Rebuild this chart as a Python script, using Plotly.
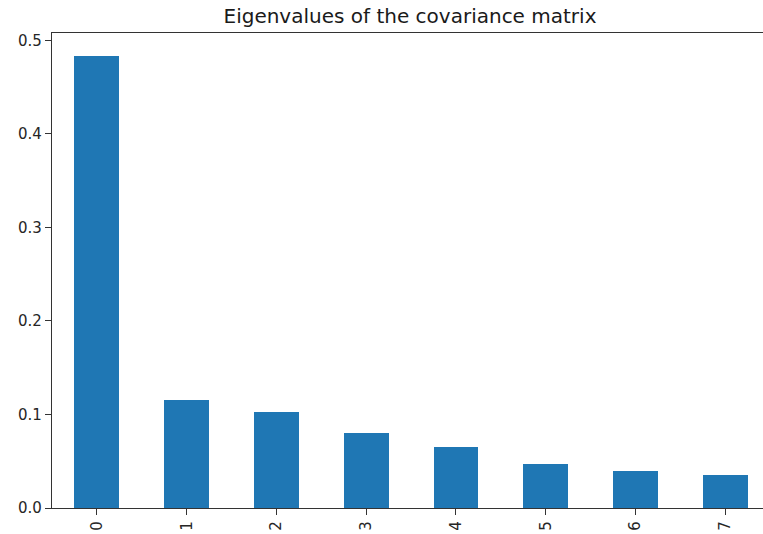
import plotly.graph_objects as go

# Eigenvalues of the covariance matrix, one per principal component
components = ["0", "1", "2", "3", "4", "5", "6", "7"]
eigenvalues = [0.4827, 0.1156, 0.1031, 0.0807, 0.0657, 0.0470, 0.0398, 0.0348]
y_ticks = [0.0, 0.1, 0.2, 0.3, 0.4, 0.5]
y_tick_labels = ["0.0", "0.1", "0.2", "0.3", "0.4", "0.5"]

W, H = 763, 534
left, top, bottom = 52, 32.5, 25.7

fig = go.Figure(
    go.Bar(
        x=list(range(len(components))),
        y=eigenvalues,
        width=0.5,
        marker=dict(color="#1f77b4", line=dict(width=0)),
        hoverinfo="x+y",
    )
)

axis_font = dict(family="DejaVu Sans", size=15, color="#262626")

fig.update_layout(
    width=W,
    height=H,
    margin=dict(l=left, r=0, t=top, b=bottom, pad=0),
    paper_bgcolor="white",
    plot_bgcolor="white",
    showlegend=False,
    bargap=0,
    title=dict(
        text="Eigenvalues of the covariance matrix",
        font=dict(family="DejaVu Sans", size=20, color="#1a1a1a"),
        xref="container",
        x=410 / W,
        xanchor="center",
        yref="container",
        y=1 - 16 / H,
        yanchor="middle",
    ),
    xaxis=dict(
        range=[-0.5, 7.42],
        tickmode="array",
        tickvals=list(range(len(components))),
        ticktext=components,
        tickangle=-90,
        ticks="outside",
        ticklen=6,
        tickwidth=1.1,
        tickcolor="#333",
        showline=True,
        linecolor="#333",
        linewidth=1.2,
        mirror=True,
        showgrid=False,
        zeroline=False,
        tickfont=axis_font,
    ),
    yaxis=dict(
        range=[0, 0.5078],
        tickmode="array",
        tickvals=y_ticks,
        ticktext=y_tick_labels,
        ticks="outside",
        ticklen=6,
        tickwidth=1.1,
        tickcolor="#333",
        showline=True,
        linecolor="#333",
        linewidth=1.2,
        showgrid=False,
        zeroline=False,
        tickfont=axis_font,
    ),
)

fig.write_html("out.html")
